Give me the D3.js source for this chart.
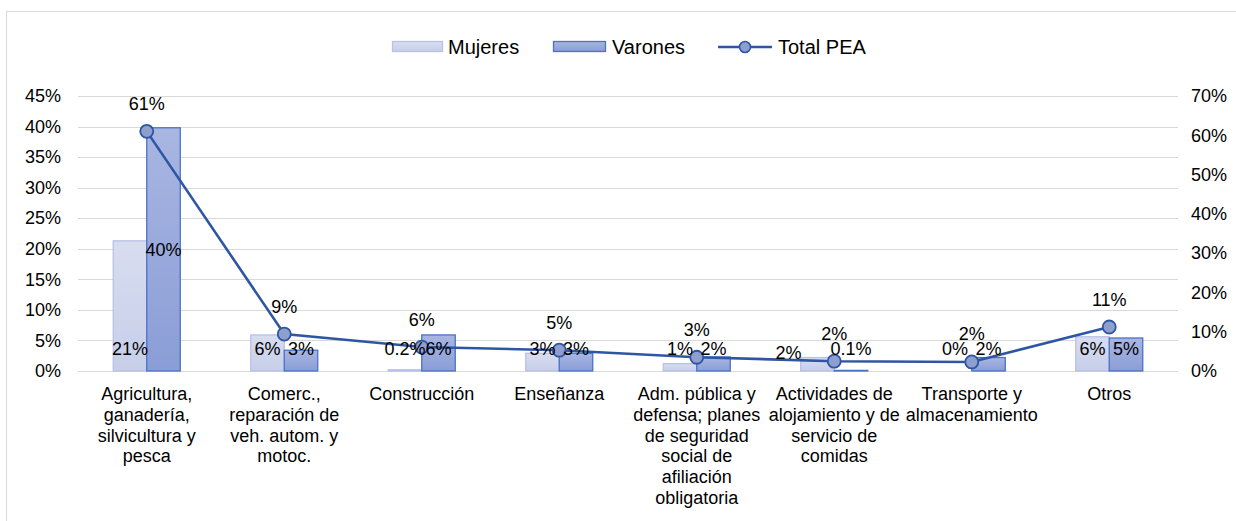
<!DOCTYPE html>
<html>
<head>
<meta charset="utf-8">
<script src="https://cdn.jsdelivr.net/npm/d3@7"></script>
<style>
  body { margin: 0; background: #fff; }
  text { font-family: "Liberation Sans", Arial, sans-serif; fill: #000; }
</style>
</head>
<body>
<svg id="chart" width="1236" height="521"></svg>
<script>
// categories (line breaks as in the original wrapped labels)
const categories = [
    "Agricultura,\nganadería,\nsilvicultura y\npesca",
    "Comerc.,\nreparación de\nveh. autom. y\nmotoc.",
    "Construcción",
    "Enseñanza",
    "Adm. pública y\ndefensa; planes\nde seguridad\nsocial de\nafiliación\nobligatoria",
    "Actividades de\nalojamiento y de\nservicio de\ncomidas",
    "Transporte y\nalmacenamiento",
    "Otros"
];
const mujeres = [0.213, 0.059, 0.002, 0.029, 0.012, 0.022, 0.000, 0.056];
const varones = [0.398, 0.034, 0.059, 0.029, 0.023, 0.001, 0.022, 0.054];
const totalPEA = [0.61, 0.094, 0.061, 0.053, 0.035, 0.025, 0.023, 0.112];
const mujeresLabels = ["21%", "6%", "0.2%", "3%", "1%", "2%", "0%", "6%"];
const varonesLabels = ["40%", "3%", "6%", "3%", "2%", "0.1%", "2%", "5%"];
const totalLabels = ["61%", "9%", "6%", "5%", "3%", "2%", "2%", "11%"];
const leftTicks = [0, 0.05, 0.1, 0.15, 0.2, 0.25, 0.3, 0.35, 0.4, 0.45];
const rightTicks = [0, 0.1, 0.2, 0.3, 0.4, 0.5, 0.6, 0.7];

const svg = d3.select("#chart");
const fmt = d3.format(".0%");
const fs = "18px";

// chart frame
svg.append("rect")
    .attr("x", 6.5).attr("y", 11.5)
    .attr("width", 1240).attr("height", 520)
    .attr("fill", "none").attr("stroke", "#d9d9d9");

const plotL = 78, plotR = 1178, plotT = 96, plotB = 371;

let x = d3.scaleBand().domain(d3.range(categories.length)).range([plotL, plotR]);
let yL = d3.scaleLinear().domain([0, 0.45]).range([plotB, plotT]);
let yR = d3.scaleLinear().domain([0, 0.7]).range([plotB, plotT]);

let barW = 33.5;

// gradients
let defs = svg.append("defs");
function grad(id, c1, c2) {
    let g = defs.append("linearGradient").attr("id", id)
        .attr("x1", 0).attr("y1", 0).attr("x2", 0).attr("y2", 1);
    g.append("stop").attr("offset", "0%").attr("stop-color", c1);
    g.append("stop").attr("offset", "100%").attr("stop-color", c2);
}
grad("gM", "#d8ddf0", "#c6cee9");
grad("gV", "#a9b6e2", "#8a9dd6");

// gridlines
svg.append("g").selectAll("line")
    .data(leftTicks)
    .join("line")
    .attr("x1", plotL).attr("x2", plotR)
    .attr("y1", d => Math.round(yL(d)) + 0.5)
    .attr("y2", d => Math.round(yL(d)) + 0.5)
    .attr("stroke", "#d9d9d9").attr("stroke-width", 1.2);

// left axis
svg.append("g")
    .attr("transform", "translate(61,0)")
    .call(d3.axisLeft(yL).tickValues(leftTicks).tickFormat(fmt).tickSize(0).tickPadding(0))
    .call(g => g.select(".domain").remove())
    .selectAll("text").style("font-size", fs).attr("font-family", null).attr("fill", "#000");

// right axis
svg.append("g")
    .attr("transform", "translate(1191,0)")
    .call(d3.axisRight(yR).tickValues(rightTicks).tickFormat(fmt).tickSize(0).tickPadding(0))
    .call(g => g.select(".domain").remove())
    .selectAll("text").style("font-size", fs).attr("font-family", null).attr("fill", "#000");

// bars
let cx = i => x(i) + x.bandwidth() / 2;

svg.append("g").selectAll("rect")
    .data(mujeres)
    .join("rect")
    .attr("x", (d, i) => cx(i) - barW)
    .attr("y", d => yL(d))
    .attr("width", barW)
    .attr("height", d => plotB - yL(d))
    .attr("fill", "url(#gM)")
    .attr("stroke", "#b7c2e5").attr("stroke-width", 1.3);

svg.append("g").selectAll("rect")
    .data(varones)
    .join("rect")
    .attr("x", (d, i) => cx(i))
    .attr("y", d => yL(d))
    .attr("width", barW)
    .attr("height", d => plotB - yL(d))
    .attr("fill", "url(#gV)")
    .attr("stroke", "#4a73c6").attr("stroke-width", 1.3);

// line
let line = d3.line()
    .x((d, i) => cx(i))
    .y(d => yR(d));

svg.append("path")
    .datum(totalPEA)
    .attr("d", line)
    .attr("fill", "none")
    .attr("stroke", "#2f56a3")
    .attr("stroke-width", 2.6);

svg.append("g").selectAll("circle")
    .data(totalPEA)
    .join("circle")
    .attr("cx", (d, i) => cx(i))
    .attr("cy", d => yR(d))
    .attr("r", 6.5)
    .attr("fill", "#8e9ecf")
    .attr("stroke", "#2f56a3")
    .attr("stroke-width", 1.8);

// bar labels (inside base, big bar centered)
function labY(v) {
    return v > 0.3 ? (plotB + yL(v)) / 2 + 6.5 : plotB - 16;
}
svg.append("g").selectAll("text")
    .data(mujeres)
    .join("text")
    .attr("x", (d, i) => cx(i) - barW / 2 + (i === 5 ? -29 : 0))
    .attr("y", (d, i) => labY(d) + (i === 5 ? 4 : 0))
    .attr("text-anchor", "middle")
    .style("font-size", fs)
    .text((d, i) => mujeresLabels[i]);

svg.append("g").selectAll("text")
    .data(varones)
    .join("text")
    .attr("x", (d, i) => cx(i) + barW / 2)
    .attr("y", d => labY(d))
    .attr("text-anchor", "middle")
    .style("font-size", fs)
    .text((d, i) => varonesLabels[i]);

svg.append("g").selectAll("text")
    .data(totalPEA)
    .join("text")
    .attr("x", (d, i) => cx(i))
    .attr("y", d => yR(d) - 21.5)
    .attr("text-anchor", "middle")
    .style("font-size", fs)
    .text((d, i) => totalLabels[i]);

// category labels
svg.append("g").selectAll("text")
    .data(categories)
    .join("text")
    .attr("text-anchor", "middle")
    .style("font-size", fs)
    .each(function (d, i) {
        let t = d3.select(this);
        d.split("\n").forEach(function (s, j) {
            t.append("tspan")
                .attr("x", cx(i))
                .attr("y", 400 + j * 20.8)
                .text(s);
        });
    });

// legend
let lg = svg.append("g").style("font-size", "20px");
lg.append("rect").attr("x", 392.5).attr("y", 41.5).attr("width", 50).attr("height", 10)
    .attr("fill", "url(#gM)").attr("stroke", "#b7c2e5").attr("stroke-width", 1.3);
lg.append("text").attr("x", 448).attr("y", 54).text("Mujeres");
lg.append("rect").attr("x", 553.5).attr("y", 41.5).attr("width", 52).attr("height", 10)
    .attr("fill", "url(#gV)").attr("stroke", "#4a73c6").attr("stroke-width", 1.3);
lg.append("text").attr("x", 612).attr("y", 54).text("Varones");
lg.append("line").attr("x1", 718).attr("x2", 772).attr("y1", 47).attr("y2", 47)
    .attr("stroke", "#2f56a3").attr("stroke-width", 2.6);
lg.append("circle").attr("cx", 745).attr("cy", 47).attr("r", 5.5)
    .attr("fill", "#8e9ecf").attr("stroke", "#2f56a3").attr("stroke-width", 1.6);
lg.append("text").attr("x", 778).attr("y", 54).text("Total PEA");
</script>
</body>
</html>
